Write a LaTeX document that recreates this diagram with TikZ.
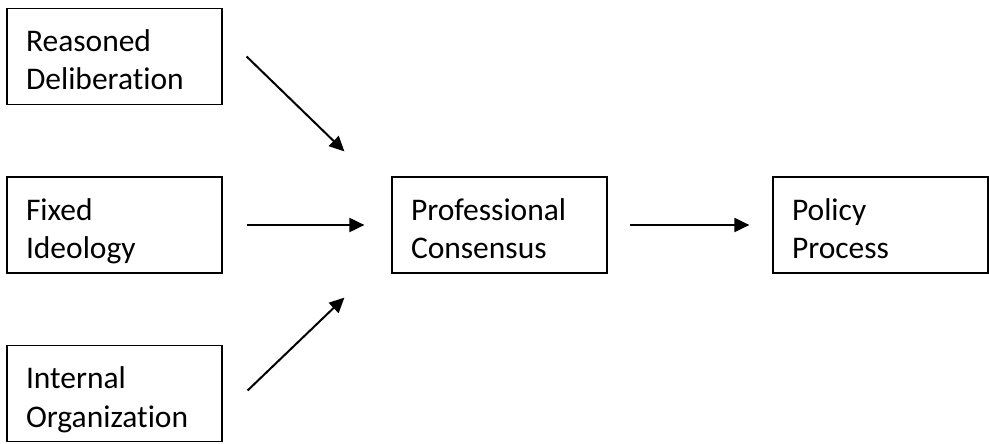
\documentclass[tikz,border=0pt]{standalone}
\usepackage{fontspec}
\setmainfont{Carlito}[Ligatures={NoCommon}]
\usetikzlibrary{arrows.meta,calc}
\tikzset{
  box/.style={draw, line width=1.2pt, rectangle, minimum width=215pt, minimum height=96pt,
    inner xsep=19pt, inner ysep=0pt, text width=177pt, align=left,
    text height=29pt, text depth=39pt, font=\fontsize{31.5}{38.5}\selectfont},
  arr/.style={line width=2pt, -{Triangle[length=15pt,width=14pt]}}
}
\begin{document}
\begin{tikzpicture}[x=1pt,y=-1pt]
\useasboundingbox (0,0) rectangle (989,444);
\node[box] (rd) at (114.5,56.5) {Reasoned\\Deliberation};
\node[box] (fi) at (114.5,225) {Fixed\\Ideology};
\node[box] (io) at (114.5,393.5) {Internal\\Organization};
\node[box] (pc) at (499.5,225) {Professional\\Consensus};
\node[box] (pp) at (880.5,225) {Policy\\Process};
\draw[arr] ($(rd.east)+(24,0)$) -- ($(pc.north west)+(-47,-25)$);
\draw[arr] ($(fi.east)+(24,0)$) -- ($(pc.west)+(-27,0)$);
\draw[arr] ($(io.east)+(25,-3)$) -- ($(pc.south west)+(-47,24)$);
\draw[arr] ($(pc.east)+(22,0)$) -- ($(pp.west)+(-23,0)$);
\end{tikzpicture}
\end{document}
